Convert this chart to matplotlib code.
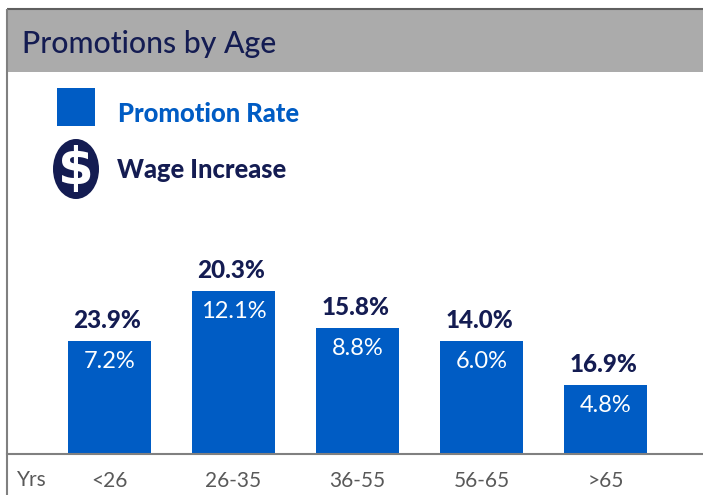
import matplotlib
matplotlib.use('Agg')
import matplotlib.pyplot as plt
from matplotlib.patches import Rectangle, Ellipse

age_groups = ['<26', '26-35', '36-55', '56-65', '>65']
# bar heights as drawn, they are not quite in proportion with the printed labels
bar_heights = [8.1, 11.65, 9.0, 8.1, 4.93]
promotion_labels = ['7.2%', '12.1%', '8.8%', '6.0%', '4.8%']
wage_labels = ['23.9%', '20.3%', '15.8%', '14.0%', '16.9%']

BLUE = '#005cc4'
NAVY = '#141c52'
GREY = '#808080'
W, H = 703, 495

plt.rcParams['font.family'] = ['Lato', 'DejaVu Sans']

fig = plt.figure(figsize=(W / 100, H / 100), dpi=100)

# page layer in pixels for the header and the legend
bg = fig.add_axes([0, 0, 1, 1])
bg.set_xlim(0, W)
bg.set_ylim(H, 0)
bg.axis('off')
bg.add_patch(Rectangle((7, 9), W - 7, 63, facecolor='#ababab', edgecolor='none'))
bg.plot([7, W], [9, 9], color='#5f5f5f', lw=1.5, solid_capstyle='butt')
bg.plot([7, 7], [9, H], color=GREY, lw=1.5, solid_capstyle='butt')
bg.text(22, 43.5, 'Promotions by Age', color=NAVY, fontsize=21.7, va='center', ha='left', weight='medium')

bg.add_patch(Rectangle((57, 88), 38, 38, facecolor=BLUE, edgecolor='none'))
bg.text(118, 114.5, 'Promotion Rate', color=BLUE, fontsize=18.4, weight='black', va='center', ha='left')
bg.add_patch(Ellipse((76, 169), 46, 60, facecolor=NAVY, edgecolor='none'))
bg.text(76, 170, '$', color='white', fontsize=37, weight='bold', va='center', ha='center',
        family='DejaVu Sans', parse_math=False)
bg.text(117, 170.5, 'Wage Increase', color=NAVY, fontsize=18.4, weight='black', va='center', ha='left')

# chart axes: bottom edge is the baseline at y=454
ax = fig.add_axes([7 / W, (H - 454) / H, (W - 7) / W, 254 / H])
ax.patch.set_alpha(0)
x = list(range(len(age_groups)))
bars = ax.bar(x, bar_heights, width=0.675, color=BLUE)
ax.set_xlim(-0.827, 4.786)
ax.set_ylim(0, 254 / 14)
for s in ['top', 'left', 'right']:
    ax.spines[s].set_visible(False)
ax.spines['bottom'].set_color(GREY)
ax.spines['bottom'].set_linewidth(1.5)
ax.set_yticks([])
ax.set_xticks(x, age_groups, color='#595959', fontsize=15)
ax.tick_params(axis='x', length=0, pad=12)

for b, inner, outer in zip(bars, promotion_labels, wage_labels):
    cx = b.get_x() + b.get_width() / 2
    top = b.get_height()
    ax.annotate(inner, (cx, top), xytext=(0, -7.5), textcoords='offset points', ha='center', va='top',
                color='white', fontsize=17)
    ax.annotate(outer, (cx, top), xytext=(-1.5, 6.5), textcoords='offset points', ha='center', va='bottom',
                color=NAVY, fontsize=17.5, weight='black')

bg.text(17, 480, 'Yrs', color='#595959', fontsize=15, va='center', ha='left')

fig.savefig('out.png', dpi=100)
